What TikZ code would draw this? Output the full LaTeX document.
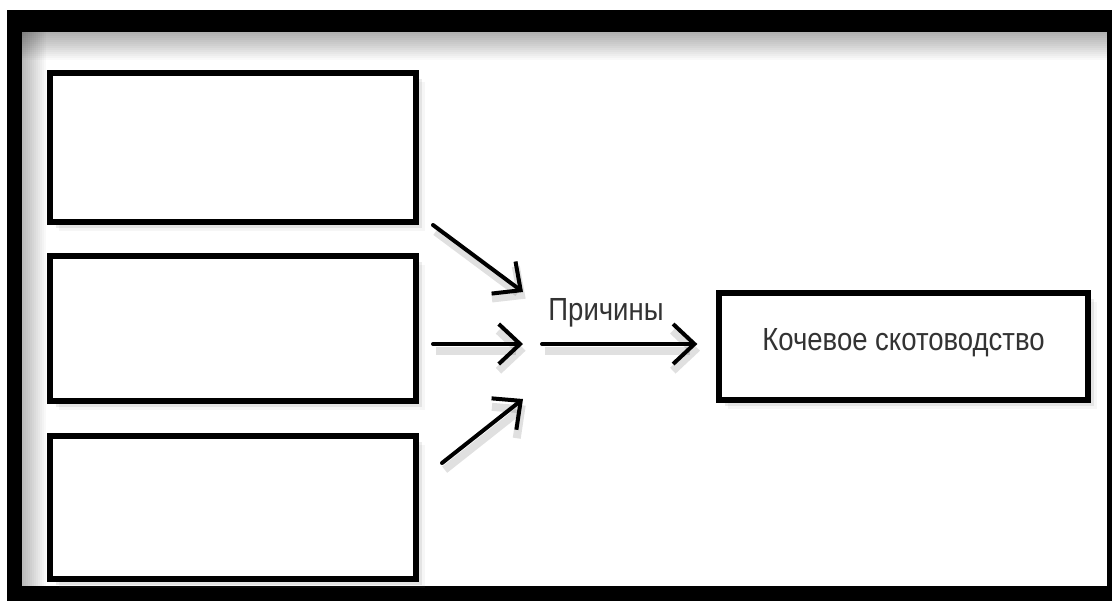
\documentclass[tikz,border=0pt]{standalone}
\usepackage{fontspec}
\setmainfont[FakeStretch=0.86]{Liberation Sans}
\usetikzlibrary{arrows.meta, positioning, shadows}

\begin{document}
\begin{tikzpicture}[
			x=0.75pt, y=-0.75pt,
			soft/.style = {drop shadow={shadow xshift=2pt, shadow yshift=-2pt, opacity=.25},
					drop shadow={shadow xshift=4.5pt, shadow yshift=-4.5pt, opacity=.15},
					drop shadow={shadow xshift=7pt, shadow yshift=-7pt, opacity=.07}},
			causebox/.style = {rectangle, draw, line width=4.5pt, fill=white, soft,
					minimum width=274.5pt},
			resultbox/.style = {rectangle, draw, line width=4.5pt, fill=white, soft,
					minimum width=276.75pt, minimum height=80.25pt, text depth=11pt,
					font=\fontsize{24}{28}\selectfont, text=black!80},
			line/.style = {draw, line width=3pt, line cap=round,
					-{Straight Barb[length=16pt, width=30pt]},
					preaction={draw=black, opacity=.12, line width=6pt,
							transform canvas={shift={(2pt,-5pt)}}}},
		]
		% frame with inner shadow
		\fill[white] (0,0) rectangle (1112,601);
		\fill[black] (7,10) rectangle (1112,601);
		\fill[white] (22,32) rectangle (1107,586);
		\foreach \d in {0,2,...,26}
		\fill[black, opacity=.025] (22,32) rectangle (1107,34+\d);
		\foreach \d in {0,2,...,22}
		\fill[black, opacity=.025] (22,32) rectangle (24+\d,586);
		\useasboundingbox (0,0) rectangle (1112,601);

		% empty cause boxes
		\node [causebox, minimum height=111.75pt] (reasonA) at (233,147.5) {};
		\node [causebox, minimum height=108.75pt] (reasonB) at (233,328.5) {};
		\node [causebox, minimum height=107.25pt] (reasonC) at (233,507.5) {};

		% result box
		\node [resultbox] (nomad) at (903.5,346.5) {Кочевое скотоводство};

		% arrow ends
		\coordinate (inA) at (523,292);
		\coordinate (inB) at (523,344);
		\coordinate (inC) at (523,399);
		\coordinate (hub) at (542,344);

		% Draw arrows
		\path [line] ([shift={(14,0)}]reasonA.south east) -- (inA);
		\path [line] ([shift={(14,15.5)}]reasonB.east) -- (inB);
		\path [line] ([shift={(23,30)}]reasonC.north east) -- (inC);
		\path [line, shorten >=14pt] (hub) -- (hub -| nomad.west);

		\node [anchor=base, font=\fontsize{24}{28}\selectfont, text=black!80] (why) at (606,320) {Причины};
	\end{tikzpicture}
\end{document}
